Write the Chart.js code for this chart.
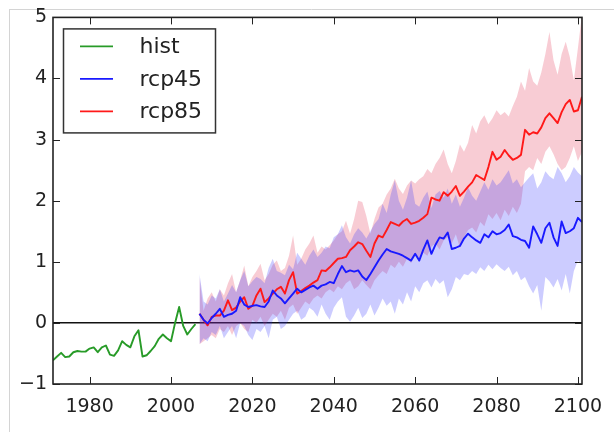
<!DOCTYPE html>
<html><head><meta charset="utf-8">
<script src="https://cdn.jsdelivr.net/npm/chart.js@4"></script>
<style>html,body{margin:0;padding:0;background:#fff;}canvas{display:block;}</style>
</head><body>
<canvas id="c" width="614" height="432"></canvas>
<script>
// ---- data ----
const histStart = 1971;
const histValues = [
 -0.61,-0.55,-0.49,-0.56,-0.55,-0.48,-0.46,-0.47,-0.47,-0.42,
 -0.40,-0.48,-0.40,-0.37,-0.52,-0.54,-0.45,-0.30,-0.36,-0.40,
 -0.22,-0.12,-0.55,-0.53,-0.46,-0.38,-0.26,-0.19,-0.25,-0.30,
  0.00, 0.26,-0.05,-0.19,-0.10,-0.02];
const rcpStart = 2007;
const rcp45Mean = [
 0.15,0.05,-0.01,0.08,0.15,0.23,0.10,0.13,0.15,0.20,
 0.42,0.30,0.26,0.28,0.29,0.27,0.26,0.35,0.53,0.45,
 0.40,0.32,0.40,0.48,0.56,0.50,0.54,0.58,0.61,0.56,
 0.61,0.63,0.67,0.65,0.80,0.93,0.83,0.86,0.84,0.86,
 0.76,0.70,0.80,0.91,1.02,1.12,1.21,1.17,1.15,1.13,
 1.10,1.06,1.02,1.13,1.02,1.20,1.35,1.13,1.28,1.40,
 1.38,1.48,1.21,1.23,1.26,1.38,1.46,1.40,1.35,1.31,
 1.45,1.40,1.50,1.45,1.47,1.52,1.61,1.42,1.40,1.36,
 1.34,1.23,1.58,1.45,1.31,1.55,1.64,1.40,1.26,1.66,
 1.47,1.50,1.55,1.72,1.65];
const rcp85Mean = [
 0.15,0.05,-0.04,0.10,0.12,0.12,0.20,0.37,0.21,0.25,
 0.35,0.42,0.23,0.28,0.45,0.56,0.34,0.40,0.48,0.55,
 0.59,0.48,0.70,0.83,0.48,0.52,0.57,0.61,0.66,0.70,
 0.86,0.85,0.91,0.98,1.05,1.06,1.08,1.19,1.25,1.32,
 1.29,1.18,1.08,1.30,1.43,1.40,1.52,1.65,1.62,1.59,
 1.66,1.70,1.62,1.64,1.67,1.72,1.78,2.05,2.02,2.00,
 2.14,2.08,2.15,2.24,2.08,2.15,2.23,2.30,2.42,2.38,
 2.34,2.55,2.80,2.67,2.72,2.83,2.74,2.67,2.70,2.75,
 3.16,3.08,3.12,3.10,3.20,3.35,3.43,3.35,3.27,3.45,
 3.58,3.65,3.46,3.48,3.70];
const rcp45Upper = [
 0.80,0.35,0.30,0.45,0.40,0.55,0.35,0.48,0.62,0.50,
 0.70,0.85,0.60,0.68,0.75,0.72,0.65,0.90,1.05,0.85,
 0.82,0.78,0.95,0.88,1.15,1.05,0.95,1.10,1.20,1.08,
 1.15,1.25,1.22,1.40,1.45,1.60,1.40,1.30,1.45,1.55,
 1.48,1.38,1.50,1.62,1.70,1.95,1.80,2.10,2.33,2.00,
 1.85,2.05,2.33,1.95,1.90,2.05,2.15,1.88,2.10,2.16,
 2.05,2.20,1.95,2.10,1.90,2.05,2.22,2.08,2.00,2.15,
 2.30,2.18,2.35,2.25,2.30,2.40,2.50,2.28,2.35,2.22,
 2.30,2.38,2.45,2.20,2.30,2.48,2.40,2.35,2.55,2.45,
 2.30,2.40,2.55,2.46,2.40];
const rcp45Lower = [
 -0.35,-0.25,-0.30,-0.15,-0.20,-0.05,-0.25,-0.15,-0.05,-0.25,
 0.00,-0.05,-0.20,-0.28,-0.10,-0.15,-0.05,-0.25,0.05,0.10,
 -0.10,-0.05,0.05,0.15,0.20,0.05,0.10,0.25,0.20,0.10,
 0.30,0.15,0.05,0.25,0.35,0.42,0.10,0.02,0.12,0.25,
 0.08,0.15,0.30,0.12,0.25,0.40,0.28,0.35,0.15,0.40,
 0.30,0.50,0.35,0.60,0.50,0.65,0.70,0.58,0.72,0.64,
 0.70,0.42,0.55,0.75,0.70,0.80,0.78,0.85,0.80,0.91,
 0.85,0.95,0.88,0.96,0.90,0.85,0.92,0.78,0.85,0.70,
 0.75,0.60,0.48,0.62,0.20,0.75,0.68,0.58,0.72,0.53,
 0.80,0.48,0.85,1.02,0.95];
const rcp85Upper = [
 0.75,0.20,0.40,0.50,0.35,0.55,0.45,0.65,0.80,0.50,
 0.70,0.94,0.60,0.75,0.85,0.97,0.70,0.80,0.95,1.02,
 0.85,0.90,1.10,1.43,0.95,1.05,1.20,1.30,1.43,1.15,
 1.25,1.20,1.27,1.35,1.45,1.50,1.67,1.46,1.70,2.00,
 1.98,1.75,1.46,1.70,1.89,1.95,2.10,2.20,2.36,2.20,
 2.11,2.25,2.33,2.28,2.35,2.40,2.52,2.45,2.60,2.70,
 2.84,2.60,2.45,2.65,2.92,2.80,2.95,3.24,3.10,3.30,
 3.40,3.25,3.35,3.48,3.40,3.45,3.38,3.55,3.70,3.95,
 3.80,4.17,3.95,3.88,4.10,4.40,4.76,4.30,4.06,4.40,
 4.60,4.35,3.97,4.50,5.05];
const rcp85Lower = [
 -0.35,-0.30,-0.25,-0.20,-0.25,-0.10,-0.15,-0.05,-0.20,-0.05,
 0.00,-0.10,-0.15,0.05,0.00,0.10,-0.05,0.05,0.15,0.10,
 0.20,0.05,0.25,0.30,0.15,0.25,0.35,0.30,0.40,0.45,
 0.40,0.50,0.55,0.50,0.60,0.55,0.65,0.70,0.55,0.60,
 0.70,0.62,0.55,0.70,0.78,0.85,0.80,0.95,0.90,1.00,
 0.92,1.05,0.98,1.10,1.05,1.15,1.10,1.25,1.30,1.20,
 1.35,1.40,1.30,1.45,1.23,1.40,1.52,1.56,1.48,1.65,
 1.58,1.78,1.70,1.80,1.68,1.85,1.75,1.90,1.80,1.95,
 2.48,2.55,2.50,2.70,2.60,2.80,2.89,2.76,2.60,2.50,
 2.55,2.70,2.89,2.65,2.80];
const xTickValues = [1980, 2000, 2020, 2040, 2060, 2080, 2100];
const xTickLabels = ['1980', '2000', '2020', '2040', '2060', '2080', '2100'];
const yTickValues = [-1, 0, 1, 2, 3, 4, 5];
const yTickLabels = ['\u22121', '0', '1', '2', '3', '4', '5'];
const seriesNames = ['hist', 'rcp45', 'rcp85'];
const xMin = 1971, xMax = 2101, yMin = -1, yMax = 5;

// ---- build points ----
const pts = (start, arr) => arr.map((v, i) => ({x: start + i, y: v}));

const FONT = 'DejaVu Sans';
const TXT = '#222';

const screenEdge = {
  id: 'screenEdge',
  beforeDraw(chart) {
    const c = chart.ctx;
    c.save();
    c.fillStyle = '#fff';
    c.fillRect(0, 0, chart.width, chart.height);
    c.strokeStyle = '#d4d4d4';
    c.lineWidth = 1;
    c.beginPath();
    c.moveTo(9, 9.5); c.lineTo(chart.width, 9.5);
    c.moveTo(9.5, 9); c.lineTo(9.5, chart.height);
    c.stroke();
    c.restore();
  }
};

const frameTicks = {
  id: 'frameTicks',
  afterDatasetsDraw(chart) {
    const c = chart.ctx, a = chart.chartArea;
    const xs = chart.scales.x, ys = chart.scales.y;
    c.save();
    c.strokeStyle = '#222';
    c.lineWidth = 1;
    c.beginPath();
    xTickValues.forEach(v => {
      const px = Math.round(xs.getPixelForValue(v)) + 0.5;
      c.moveTo(px, a.bottom); c.lineTo(px, a.bottom - 7);
      c.moveTo(px, a.top); c.lineTo(px, a.top + 7);
    });
    yTickValues.forEach(v => {
      const py = Math.round(ys.getPixelForValue(v)) + 0.5;
      c.moveTo(a.left, py); c.lineTo(a.left + 7, py);
      c.moveTo(a.right, py); c.lineTo(a.right - 7, py);
    });
    c.stroke();
    c.lineWidth = 1.6;
    c.strokeRect(a.left, a.top, a.right - a.left, a.bottom - a.top);
    c.restore();
  }
};

const boxLegend = {
  id: 'boxLegend',
  afterDraw(chart) {
    const c = chart.ctx, a = chart.chartArea;
    const bx = a.left + 10.5, by = a.top + 11.5, bw = 152, bh = 104;
    c.save();
    c.fillStyle = '#fff';
    c.fillRect(bx, by, bw, bh);
    c.strokeStyle = '#333';
    c.lineWidth = 1.5;
    c.strokeRect(bx, by, bw, bh);
    const items = chart.data.datasets.filter(d => seriesNames.includes(d.label));
    c.font = '22px "' + FONT + '"';
    c.textBaseline = 'middle';
    c.textAlign = 'left';
    items.forEach((d, i) => {
      const y = by + 17.5 + i * 32.5;
      c.strokeStyle = d.borderColor;
      c.lineWidth = 1.6;
      c.beginPath();
      c.moveTo(bx + 16.5, y); c.lineTo(bx + 49.5, y);
      c.stroke();
      c.fillStyle = TXT;
      c.fillText(d.label, bx + 76, y + 1);
    });
    c.restore();
  }
};

new Chart(document.getElementById('c'), {
  type: 'line',
  data: {
    datasets: [
      {label: seriesNames[0], data: pts(histStart, histValues), borderColor: 'rgb(40,155,40)', borderWidth: 1.9, fill: false},
      {label: seriesNames[1], data: pts(rcpStart, rcp45Mean), borderColor: 'rgb(25,25,255)', borderWidth: 1.9, fill: false},
      {label: seriesNames[2], data: pts(rcpStart, rcp85Mean), borderColor: 'rgb(255,25,25)', borderWidth: 1.9, fill: false},
      {label: 'rcp45 upper', data: pts(rcpStart, rcp45Upper), borderWidth: 0, borderColor: 'rgba(0,0,0,0)', backgroundColor: 'rgba(40,40,255,0.24)', fill: '+1'},
      {label: 'rcp45 lower', data: pts(rcpStart, rcp45Lower), borderWidth: 0, borderColor: 'rgba(0,0,0,0)', fill: false},
      {label: 'rcp85 upper', data: pts(rcpStart, rcp85Upper), borderWidth: 0, borderColor: 'rgba(0,0,0,0)', backgroundColor: 'rgba(225,40,75,0.24)', fill: '+1'},
      {label: 'rcp85 lower', data: pts(rcpStart, rcp85Lower), borderWidth: 0, borderColor: 'rgba(0,0,0,0)', fill: false}
    ]
  },
  options: {
    responsive: false,
    animation: false,
    devicePixelRatio: 1,
    layout: {padding: {left: 0, right: 32, top: 16, bottom: 0}},
    elements: {point: {radius: 0, hoverRadius: 0}, line: {tension: 0, borderJoinStyle: 'round'}},
    plugins: {legend: {display: false}, tooltip: {enabled: false}},
    scales: {
      x: {
        type: 'linear', min: xMin, max: xMax,
        afterBuildTicks: s => { s.ticks = xTickValues.map(v => ({value: v})); },
        afterFit: s => { s.height = 48; },
        grid: {display: false},
        border: {display: false},
        ticks: {
          autoSkip: false, maxRotation: 0, padding: 4, color: TXT,
          font: {family: FONT, size: 19},
          callback: v => xTickLabels[xTickValues.indexOf(v)]
        }
      },
      y: {
        type: 'linear', min: yMin, max: yMax,
        afterBuildTicks: s => { s.ticks = yTickValues.map(v => ({value: v})); },
        afterFit: s => { s.width = 53; },
        grid: {
          drawTicks: false,
          lineWidth: 1.5,
          color: ctx => (ctx.tick && ctx.tick.value === 0) ? '#111' : 'rgba(0,0,0,0)'
        },
        border: {display: false},
        ticks: {
          padding: 6, color: TXT,
          font: {family: FONT, size: 19},
          callback: v => yTickLabels[yTickValues.indexOf(v)]
        }
      }
    }
  },
  plugins: [screenEdge, frameTicks, boxLegend]
});
</script>
</body></html>
